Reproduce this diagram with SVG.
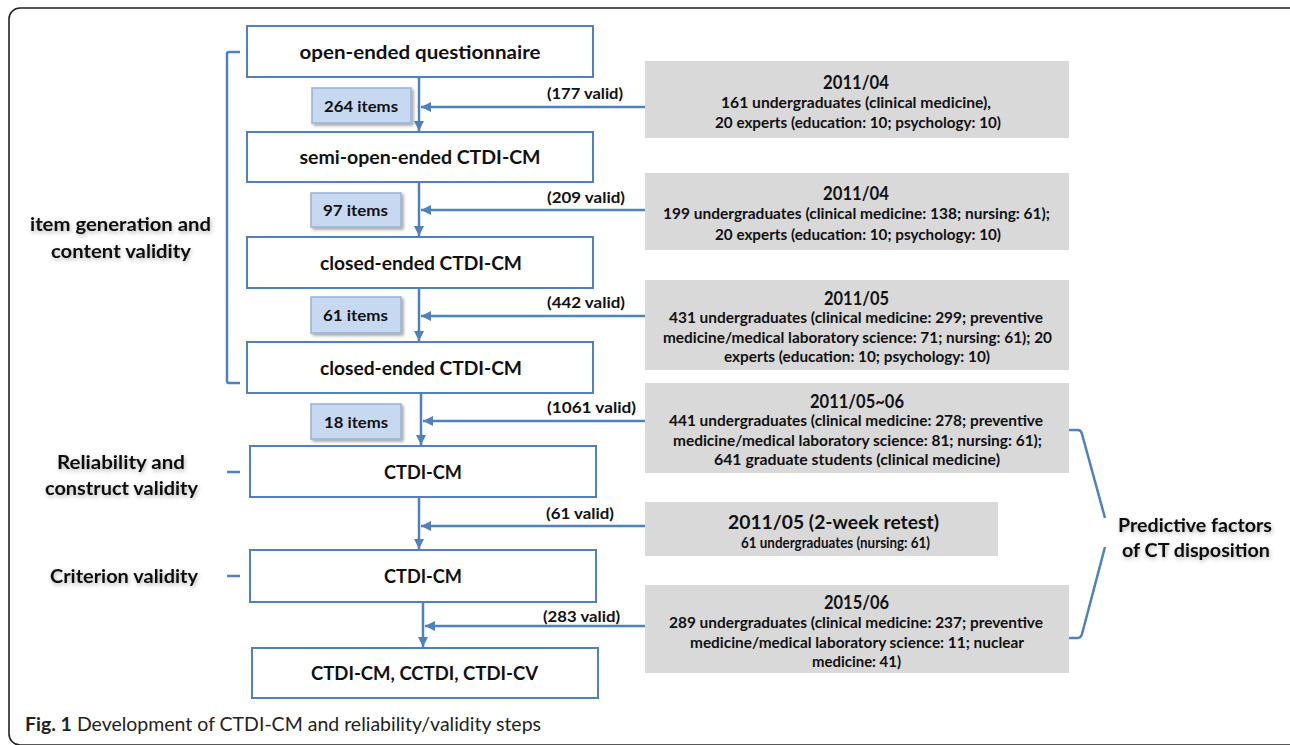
<svg xmlns="http://www.w3.org/2000/svg" width="1290" height="745" viewBox="0 0 1290 745">
<defs>
<style>
.box{fill:#fff;stroke:#4F81BD;stroke-width:2}
.item{fill:#C6D9F1;stroke:#95B3D7;stroke-width:1.5}
.gray{fill:#D9D9D9}
.ln{fill:none;stroke:#4F81BD;stroke-width:2.5}
.br{fill:none;stroke:#4F81BD;stroke-width:2.5;stroke-linejoin:round}
.t{font-family:Lato,"Liberation Sans",sans-serif;font-weight:bold;fill:#111;text-anchor:middle}
.mt{font-size:19.5px}
.it{font-size:16px}
.vl{font-size:15px;text-anchor:start}
.gt{font-size:18px}
.gl{font-size:14.5px}
.lb{font-size:19.5px}
.cap{font-family:Lato,"Liberation Sans",sans-serif;font-size:19px;fill:#222}
</style>
<marker id="ah" viewBox="0 0 10 10" refX="10" refY="5" markerWidth="4" markerHeight="4" orient="auto" markerUnits="strokeWidth">
<path d="M0,0 L10,5 L0,10 z" fill="#4F81BD"/>
</marker>
<filter id="sh" x="-20%" y="-30%" width="150%" height="170%">
<feDropShadow dx="2" dy="2" stdDeviation="1.5" flood-color="#000" flood-opacity="0.35"/>
</filter>
<filter id="glow" x="-10%" y="-30%" width="120%" height="170%">
<feDropShadow dx="1" dy="2" stdDeviation="2" flood-color="#000" flood-opacity="0.3"/>
</filter>
</defs>
<rect x="9" y="8" width="1300" height="737" rx="11" fill="none" stroke="#222" stroke-width="1.6"/>

<g id="connectors">
<line class="ln" x1="419" y1="77" x2="419" y2="131" marker-end="url(#ah)"/>
<line class="ln" x1="419" y1="182" x2="419" y2="236" marker-end="url(#ah)"/>
<line class="ln" x1="419" y1="288" x2="419" y2="341" marker-end="url(#ah)"/>
<line class="ln" x1="421" y1="393" x2="421" y2="445" marker-end="url(#ah)"/>
<line class="ln" x1="419" y1="497" x2="419" y2="549" marker-end="url(#ah)"/>
<line class="ln" x1="423" y1="602" x2="423" y2="647" marker-end="url(#ah)"/>
<line class="ln" x1="645" y1="107" x2="421" y2="107" marker-end="url(#ah)"/>
<line class="ln" x1="645" y1="210" x2="421" y2="210" marker-end="url(#ah)"/>
<line class="ln" x1="645" y1="316" x2="421" y2="316" marker-end="url(#ah)"/>
<line class="ln" x1="645" y1="421" x2="423" y2="421" marker-end="url(#ah)"/>
<line class="ln" x1="645" y1="526" x2="421" y2="526" marker-end="url(#ah)"/>
<line class="ln" x1="645" y1="626" x2="425" y2="626" marker-end="url(#ah)"/>
<path class="br" d="M240,52 H229 Q227,52 227,54 V381 Q227,383 229,383 H240"/>
<line class="ln" x1="227" y1="472" x2="240" y2="472" stroke-width="3"/>
<line class="ln" x1="227" y1="576" x2="240" y2="576" stroke-width="3"/>
<path class="br" d="M1068,430 H1078 Q1081,430 1082,434 L1105,518"/>
<path class="br" d="M1105,547 L1082,634 Q1081,638 1077,638 H1068"/>
</g>

<g id="n1"><rect class="box" x="247" y="26" width="346" height="51"/><text class="t mt" x="420" y="58.5" textLength="241" lengthAdjust="spacingAndGlyphs">open-ended questionnaire</text></g>
<g id="n2"><rect class="box" x="247" y="132" width="346" height="50"/><text class="t mt" x="420" y="164" textLength="241" lengthAdjust="spacingAndGlyphs">semi-open-ended CTDI-CM</text></g>
<g id="n3"><rect class="box" x="247" y="237" width="346" height="51"/><text class="t mt" x="421" y="269.5" textLength="202" lengthAdjust="spacingAndGlyphs">closed-ended CTDI-CM</text></g>
<g id="n4"><rect class="box" x="247" y="342" width="346" height="51"/><text class="t mt" x="421" y="374.5" textLength="202" lengthAdjust="spacingAndGlyphs">closed-ended CTDI-CM</text></g>
<g id="n5"><rect class="box" x="250" y="446" width="346" height="51"/><text class="t mt" x="423" y="478.5" textLength="78" lengthAdjust="spacingAndGlyphs">CTDI-CM</text></g>
<g id="n6"><rect class="box" x="250" y="550" width="346" height="52"/><text class="t mt" x="423" y="583" textLength="78" lengthAdjust="spacingAndGlyphs">CTDI-CM</text></g>
<g id="n7"><rect class="box" x="252" y="648" width="346" height="50"/><text class="t mt" x="424.5" y="680" textLength="227" lengthAdjust="spacingAndGlyphs">CTDI-CM, CCTDI, CTDI-CV</text></g>

<g id="i1"><rect class="item" x="312" y="88" width="99" height="35" filter="url(#sh)"/><text class="t it" x="361" y="111.5" textLength="74" lengthAdjust="spacingAndGlyphs">264 items</text></g>
<g id="i2"><rect class="item" x="311" y="193" width="90" height="34" filter="url(#sh)"/><text class="t it" x="355.5" y="216" textLength="65" lengthAdjust="spacingAndGlyphs">97 items</text></g>
<g id="i3"><rect class="item" x="311" y="297" width="90" height="36" filter="url(#sh)"/><text class="t it" x="355.5" y="321" textLength="65" lengthAdjust="spacingAndGlyphs">61 items</text></g>
<g id="i4"><rect class="item" x="311" y="404" width="90" height="35" filter="url(#sh)"/><text class="t it" x="356" y="427.5" textLength="64" lengthAdjust="spacingAndGlyphs">18 items</text></g>

<g id="v-labels">
<text class="t vl" x="547" y="98.5" textLength="76" lengthAdjust="spacingAndGlyphs">(177 valid)</text>
<text class="t vl" x="547" y="202.5" textLength="78" lengthAdjust="spacingAndGlyphs">(209 valid)</text>
<text class="t vl" x="547" y="307.5" textLength="78" lengthAdjust="spacingAndGlyphs">(442 valid)</text>
<text class="t vl" x="547" y="412.5" textLength="89" lengthAdjust="spacingAndGlyphs">(1061 valid)</text>
<text class="t vl" x="546" y="518.5" textLength="68" lengthAdjust="spacingAndGlyphs">(61 valid)</text>
<text class="t vl" x="543" y="621.5" textLength="77" lengthAdjust="spacingAndGlyphs">(283 valid)</text>
</g>

<g id="g1"><rect class="gray" x="645" y="61" width="424" height="77"/>
<text class="t gt" x="856" y="88.5" textLength="66" lengthAdjust="spacingAndGlyphs">2011/04</text>
<text class="t gl" x="856" y="107.5" textLength="270" lengthAdjust="spacingAndGlyphs">161 undergraduates (clinical medicine),</text>
<text class="t gl" x="858" y="127.5" textLength="286" lengthAdjust="spacingAndGlyphs">20 experts (education: 10; psychology: 10)</text></g>
<g id="g2"><rect class="gray" x="645" y="173" width="424" height="77"/>
<text class="t gt" x="856" y="199.5" textLength="66" lengthAdjust="spacingAndGlyphs">2011/04</text>
<text class="t gl" x="856.5" y="218.5" textLength="387" lengthAdjust="spacingAndGlyphs">199 undergraduates  (clinical medicine: 138; nursing: 61);</text>
<text class="t gl" x="858" y="239.5" textLength="286" lengthAdjust="spacingAndGlyphs">20 experts (education: 10; psychology: 10)</text></g>
<g id="g3"><rect class="gray" x="645" y="280" width="424" height="90"/>
<text class="t gt" x="856.5" y="304.5" textLength="65" lengthAdjust="spacingAndGlyphs">2011/05</text>
<text class="t gl" x="856" y="322.5" textLength="374" lengthAdjust="spacingAndGlyphs">431 undergraduates (clinical medicine: 299; preventive</text>
<text class="t gl" x="857.5" y="342.5" textLength="389" lengthAdjust="spacingAndGlyphs">medicine/medical laboratory  science: 71; nursing: 61); 20</text>
<text class="t gl" x="857" y="361.5" textLength="266" lengthAdjust="spacingAndGlyphs">experts (education: 10; psychology: 10)</text></g>
<g id="g4"><rect class="gray" x="645" y="383" width="424" height="90"/>
<text class="t gt" x="857" y="407.5" textLength="94" lengthAdjust="spacingAndGlyphs">2011/05~06</text>
<text class="t gl" x="856" y="425.5" textLength="374" lengthAdjust="spacingAndGlyphs">441 undergraduates (clinical medicine: 278; preventive</text>
<text class="t gl" x="857.5" y="445.5" textLength="369" lengthAdjust="spacingAndGlyphs">medicine/medical laboratory  science: 81; nursing: 61);</text>
<text class="t gl" x="857" y="464.5" textLength="286" lengthAdjust="spacingAndGlyphs">641 graduate students  (clinical medicine)</text></g>
<g id="g5"><rect class="gray" x="645" y="502" width="353" height="54"/>
<text class="t gt" x="833.5" y="528.5" textLength="211" lengthAdjust="spacingAndGlyphs">2011/05 (2-week retest)</text>
<text class="t gl" x="835.5" y="547.5" textLength="189" lengthAdjust="spacingAndGlyphs">61 undergraduates  (nursing: 61)</text></g>
<g id="g6"><rect class="gray" x="645" y="585" width="424" height="88"/>
<text class="t gt" x="856.5" y="608.5" textLength="65" lengthAdjust="spacingAndGlyphs">2015/06</text>
<text class="t gl" x="856" y="627.5" textLength="374" lengthAdjust="spacingAndGlyphs">289 undergraduates (clinical medicine: 237; preventive</text>
<text class="t gl" x="857" y="647.5" textLength="334" lengthAdjust="spacingAndGlyphs">medicine/medical laboratory  science: 11; nuclear</text>
<text class="t gl" x="856.5" y="667" textLength="89" lengthAdjust="spacingAndGlyphs">medicine: 41)</text></g>

<g id="side-labels" filter="url(#glow)">
<text class="t lb" x="120.5" y="230.5" textLength="181" lengthAdjust="spacingAndGlyphs">item generation and</text>
<text class="t lb" x="121" y="257.5" textLength="140" lengthAdjust="spacingAndGlyphs">content validity</text>
<text class="t lb" x="121" y="468.5" textLength="128" lengthAdjust="spacingAndGlyphs">Reliability and</text>
<text class="t lb" x="121.5" y="494.5" textLength="153" lengthAdjust="spacingAndGlyphs">construct validity</text>
<text class="t lb" x="124" y="582.5" textLength="148" lengthAdjust="spacingAndGlyphs">Criterion validity</text>
<text class="t lb" x="1195" y="531.5" textLength="154" lengthAdjust="spacingAndGlyphs">Predictive factors</text>
<text class="t lb" x="1196" y="556.5" textLength="148" lengthAdjust="spacingAndGlyphs">of CT disposition</text>
</g>

<text class="cap" x="25" y="731" textLength="516" lengthAdjust="spacingAndGlyphs"><tspan font-weight="bold">Fig. 1</tspan> Development of CTDI-CM and reliability/validity steps</text>
</svg>
